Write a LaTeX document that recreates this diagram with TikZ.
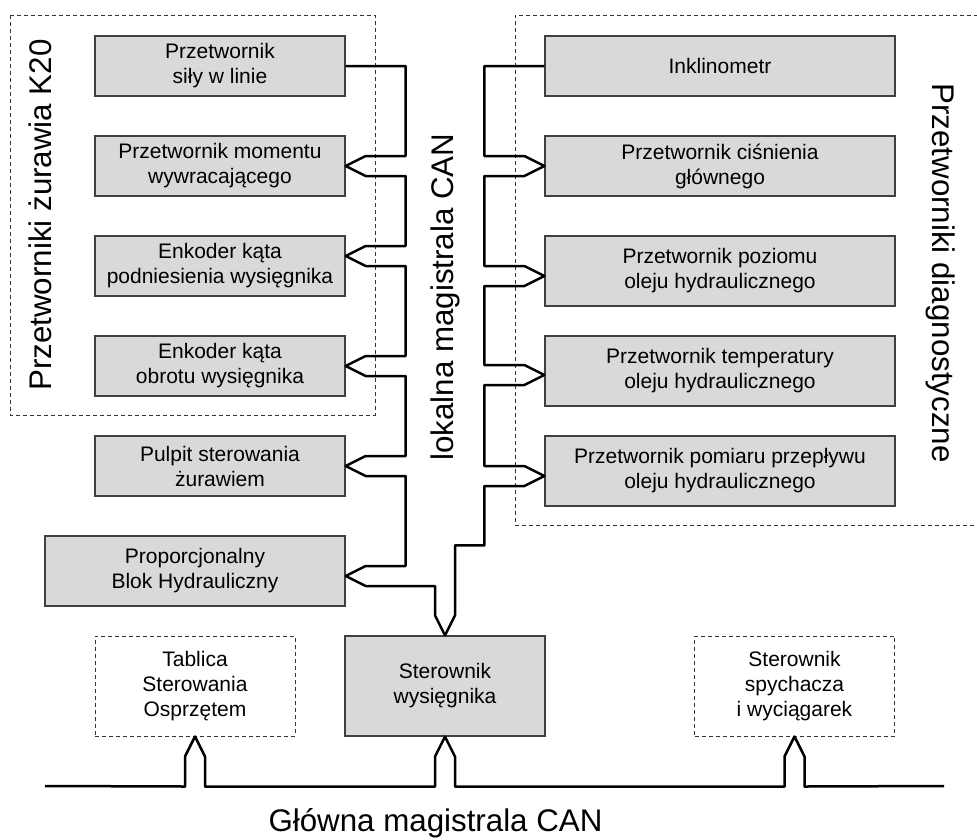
\documentclass[tikz,border=0pt]{standalone}
\usepackage{fontspec}
\setmainfont{Liberation Sans}
\usetikzlibrary{calc}
\definecolor{boxgray}{RGB}{217,217,217}
\begin{document}
\begin{tikzpicture}[x=1pt,y=-1pt,
  boxtext/.style={font=\fontsize{21}{25}\selectfont, align=center, inner sep=0pt},
  box/.style={boxtext, draw=black!75, line width=1.2pt, fill=boxgray, minimum width=250pt, minimum height=60pt},
  dbox/.style={boxtext, draw=black!80, line width=1pt, dash pattern=on 4pt off 3pt, fill=white, minimum width=200pt, minimum height=100pt},
  frame/.style={draw=black!80, line width=1pt, dash pattern=on 4pt off 3pt},
  bus/.style={draw=black, line width=2.5pt, line join=round},
  biglabel/.style={font=\fontsize{31.3}{36}\selectfont, inner sep=0pt}]
\fill[white] (0,0) rectangle (977,839);
\useasboundingbox (0,0) rectangle (977,839);

% frames
\draw[frame] (10,15) rectangle (375,415);
\draw[frame] (985,15) -- (515,15) -- (515,525) -- (985,525);

% left boxes
\node[box] (L1) at (220,66) {Przetwornik\\siły w linie};
\node[box] (L2) at (220,166) {Przetwornik momentu\\wywracającego};
\node[box] (L3) at (220,266) {Enkoder kąta\\podniesienia wysięgnika};
\node[box] (L4) at (220,366) {Enkoder kąta\\obrotu wysięgnika};
\node[box] (L5) at (220,466) {Pulpit sterowania\\żurawiem};
\node[box, minimum width=300pt, minimum height=70pt] (L6) at (195,571) {Proporcjonalny\\Blok Hydrauliczny};

% right boxes
\node[box, minimum width=350pt] (R1) at (720,66) {Inklinometr};
\node[box, minimum width=350pt] (R2) at (720,166) {Przetwornik ciśnienia\\głównego};
\node[box, minimum width=350pt, minimum height=70pt] (R3) at (720,271) {Przetwornik poziomu\\oleju hydraulicznego};
\node[box, minimum width=350pt, minimum height=70pt] (R4) at (720,371) {Przetwornik temperatury\\oleju hydraulicznego};
\node[box, minimum width=350pt, minimum height=70pt] (R5) at (720,471) {Przetwornik pomiaru przepływu\\oleju hydraulicznego};

% bottom boxes
\node[dbox] (TB) at (195,686) {Tablica\\Sterowania\\Osprzętem};
\node[box, minimum width=200pt, minimum height=100pt] (SW) at (445,686) {Sterownik\\wysięgnika};
\node[dbox] (SP) at (794.5,686) {Sterownik\\spychacza\\i wyciągarek};

% tips
\coordinate (tL3) at ($(L3.east)+(0,-10)$);
\coordinate (tL6) at ($(L6.east)+(0,5)$);
\coordinate (tR3) at ($(R3.west)+(0,5)$);
\coordinate (tR4) at ($(R4.west)+(0,4)$);
\coordinate (tR5) at ($(R5.west)+(0,5)$);

% local bus
\draw[bus] (L1.east) -| ($(L2.east)+(60,-10)$) -- ($(L2.east)+(20,-10)$) -- (L2.east) -- ($(L2.east)+(20,10)$) -- ($(L2.east)+(60,10)$)
  -- ($(tL3)+(60,-10)$) -- ($(tL3)+(20,-10)$) -- (tL3) -- ($(tL3)+(20,10)$) -- ($(tL3)+(60,10)$)
  -- ($(L4.east)+(60,-10)$) -- ($(L4.east)+(20,-10)$) -- (L4.east) -- ($(L4.east)+(20,10)$) -- ($(L4.east)+(60,10)$)
  -- ($(L5.east)+(60,-10)$) -- ($(L5.east)+(20,-10)$) -- (L5.east) -- ($(L5.east)+(20,10)$) -- ($(L5.east)+(60,10)$)
  -- ($(tL6)+(60,-10)$) -- ($(tL6)+(20,-10)$) -- (tL6) -- ($(tL6)+(20,10)$)
  -| ($(SW.north)+(-10,-20)$) -- (SW.north) -- ($(SW.north)+(10,-20)$) -- ($(SW.north)+(10,-90)$)
  -| ($(tR5)+(-60,10)$) -- ($(tR5)+(-20,10)$) -- (tR5) -- ($(tR5)+(-20,-10)$) -- ($(tR5)+(-60,-10)$)
  -- ($(tR4)+(-60,10)$) -- ($(tR4)+(-20,10)$) -- (tR4) -- ($(tR4)+(-20,-10)$) -- ($(tR4)+(-60,-10)$)
  -- ($(tR3)+(-60,10)$) -- ($(tR3)+(-20,10)$) -- (tR3) -- ($(tR3)+(-20,-10)$) -- ($(tR3)+(-60,-10)$)
  -- ($(R2.west)+(-60,10)$) -- ($(R2.west)+(-20,10)$) -- (R2.west) -- ($(R2.west)+(-20,-10)$) -- ($(R2.west)+(-60,-10)$)
  |- (R1.west);

% main bus
\coordinate (bL) at (45,786);
\coordinate (bR) at (944,786);
\draw[bus] (bL) -- ($(TB.south)+(-10,50)$) -- ($(TB.south)+(-10,20)$) -- (TB.south) -- ($(TB.south)+(10,20)$) -- ($(TB.south)+(10,50)$)
  -- ($(SW.south)+(-10,50)$) -- ($(SW.south)+(-10,20)$) -- (SW.south) -- ($(SW.south)+(10,20)$) -- ($(SW.south)+(10,50)$)
  -- ($(SP.south)+(-10,50)$) -- ($(SP.south)+(-10,20)$) -- (SP.south) -- ($(SP.south)+(10,20)$) -- ($(SP.south)+(10,50)$)
  -- (bR);

% labels
\node[biglabel, rotate=90, anchor=base] (lblK) at (51,215) {Przetworniki żurawia K20};
\node[biglabel, rotate=90, anchor=base] (lblL) at (453,297) {lokalna magistrala CAN};
\node[biglabel, rotate=-90, anchor=base] (lblD) at (932,273) {Przetworniki diagnostyczne};
\node[biglabel, anchor=base] (lblG) at (435.5,831) {Główna magistrala CAN};
\end{tikzpicture}
\end{document}
